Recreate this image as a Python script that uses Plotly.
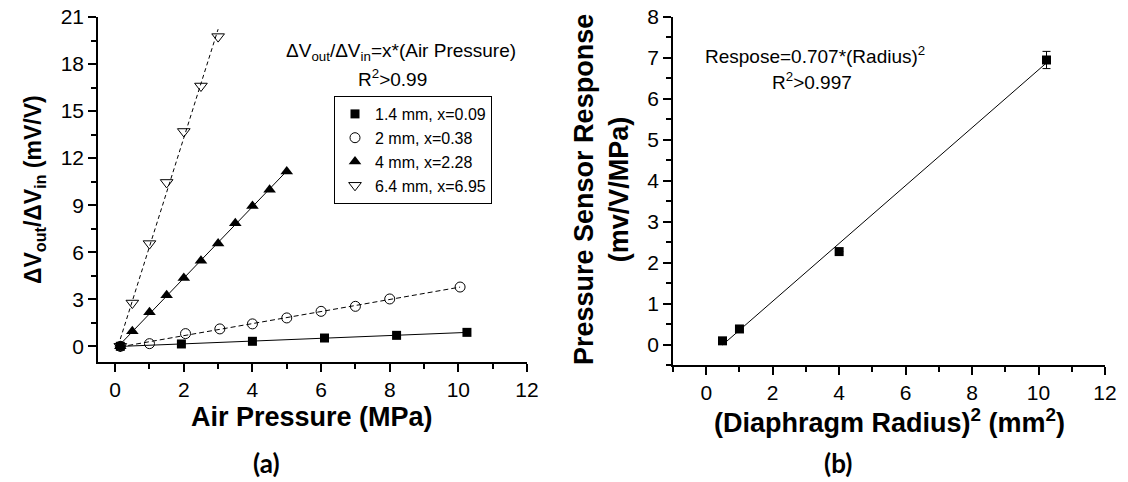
import numpy as np
import plotly.graph_objects as go

W, H = 1128, 482
FONT = "Arial, Liberation Sans, sans-serif"

# ---------------- Panel (a) data ----------------
legend_names = ["1.4 mm, x=0.09", "2 mm, x=0.38", "4 mm, x=2.28", "6.4 mm, x=6.95"]
p14_x = [0.15, 1.93, 4.0, 6.1, 8.2, 10.25]
p14_y = [0.0, 0.15, 0.32, 0.53, 0.70, 0.89]
p2_x = [0.15, 1.0, 2.05, 3.05, 4.0, 5.0, 6.0, 7.0, 8.0, 10.05]
p2_y = [0.0, 0.17, 0.81, 1.11, 1.43, 1.81, 2.23, 2.55, 3.02, 3.78]
p4_x = [0.15, 0.5, 1.0, 1.5, 2.0, 2.5, 3.0, 3.5, 4.0, 4.5, 5.0]
p4_y = [0.0, 0.96, 2.17, 3.25, 4.36, 5.46, 6.55, 7.85, 8.95, 9.98, 11.15]
p64_x = [0.15, 0.5, 1.0, 1.5, 2.0, 2.5, 3.0]
p64_y = [0.0, 2.76, 6.55, 10.45, 13.7, 16.6, 19.75]

# ---------------- Panel (b) data ----------------
rad2 = [0.49, 1.0, 4.0, 10.24]
resp = [0.09, 0.38, 2.27, 6.95]
resp_err = [0.0, 0.0, 0.0, 0.21]

# axis tick setup
a_xticks = [0, 2, 4, 6, 8, 10, 12]
a_yticks = [0, 3, 6, 9, 12, 15, 18, 21]
b_xticks = [0, 2, 4, 6, 8, 10, 12]
b_yticks = [0, 1, 2, 3, 4, 5, 6, 7, 8]


def px(x):
    return x / W


def py(y):
    return 1 - y / H


fig = go.Figure()

series = [
    (p14_x, p14_y, legend_names[0], dict(symbol="square", size=9, color="black"), "solid"),
    (p2_x, p2_y, legend_names[1], dict(symbol="circle-open", size=10, color="black", line=dict(width=1, color="black")), "5px,3px"),
    (p4_x, p4_y, legend_names[2], dict(symbol="triangle-up", size=11, color="black"), "solid"),
    (p64_x, p64_y, legend_names[3], dict(symbol="triangle-down-open", size=11, color="black", line=dict(width=1, color="black")), "4px,3px"),
]

# fit lines (linear regression of each series)
for xs, ys, name, mk, dash in series:
    k, b = np.polyfit(xs, ys, 1)
    xf = np.array([min(xs), max(xs)])
    fig.add_trace(go.Scatter(x=xf, y=k * xf + b, mode="lines",
                             line=dict(color="black", width=1, dash=dash),
                             showlegend=False, hoverinfo="skip", xaxis="x", yaxis="y"))
for xs, ys, name, mk, dash in series:
    fig.add_trace(go.Scatter(x=xs, y=ys, mode="markers", name=name, marker=mk,
                             xaxis="x", yaxis="y", cliponaxis=False))

# panel b
kb, bb = np.polyfit(rad2, resp, 1)
xfb = np.array([min(rad2), max(rad2)])
fig.add_trace(go.Scatter(x=xfb, y=kb * xfb + bb, mode="lines",
                         line=dict(color="black", width=1),
                         showlegend=False, hoverinfo="skip", xaxis="x2", yaxis="y2"))
fig.add_trace(go.Scatter(x=rad2, y=resp, mode="markers",
                         marker=dict(symbol="square", size=9, color="black"),
                         error_y=dict(type="data", array=resp_err, visible=True,
                                      color="black", thickness=1, width=4),
                         showlegend=False, xaxis="x2", yaxis="y2"))

tickfont = dict(family=FONT, size=21, color="black")


def main_axis(domain, rng, tickvals, minor_dtick, anchor):
    return dict(domain=domain, range=rng, tickmode="array", tickvals=tickvals,
                ticks="outside", ticklen=8, tickwidth=1.5, tickcolor="black",
                showline=True, linewidth=1.5, linecolor="black", automargin=False,
                showgrid=False, zeroline=False, tickfont=tickfont, anchor=anchor,
                minor=dict(dtick=minor_dtick, tick0=0, ticks="outside", ticklen=5,
                           tickwidth=1.5, tickcolor="black", showgrid=False))


def mirror_axis(overlay, rng, tickvals, minor_dtick, anchor, side):
    return dict(overlaying=overlay, range=rng, tickmode="array", tickvals=tickvals,
                ticks="inside", ticklen=6, tickwidth=1.5, tickcolor="black",
                showline=True, linewidth=1.5, linecolor="black", automargin=False,
                showgrid=False, zeroline=False, showticklabels=False,
                anchor=anchor, side=side,
                minor=dict(dtick=minor_dtick, tick0=0, ticks="inside", ticklen=3.5,
                           tickwidth=1.5, tickcolor="black", showgrid=False))


a_xdom = [px(98), px(527)]
a_ydom = [py(362), py(17)]
b_xdom = [px(673), px(1105)]
b_ydom = [py(365), py(17)]

fig.update_layout(
    width=W, height=H,
    margin=dict(l=0, r=0, t=0, b=0, pad=0, autoexpand=False),
    paper_bgcolor="white", plot_bgcolor="white",
    font=dict(family=FONT, color="black"),
    xaxis=main_axis(a_xdom, [-0.5, 12], a_xticks, 1, "y"),
    yaxis=main_axis(a_ydom, [-1, 21], a_yticks, 1.5, "x"),
    xaxis2=main_axis(b_xdom, [-1, 12], b_xticks, 1, "y2"),
    yaxis2=main_axis(b_ydom, [-0.5, 8], b_yticks, 0.5, "x2"),
    xaxis3=mirror_axis("x", [-0.5, 12], a_xticks, 1, "y", "top"),
    yaxis3=mirror_axis("y", [-1, 21], a_yticks, 1.5, "x", "right"),
    xaxis4=mirror_axis("x2", [-1, 12], b_xticks, 1, "y2", "top"),
    yaxis4=mirror_axis("y2", [-0.5, 8], b_yticks, 0.5, "x2", "right"),
    showlegend=True,
    legend=dict(x=px(334), y=py(96), xanchor="left", yanchor="top",
                bordercolor="black", borderwidth=1, bgcolor="white",
                font=dict(family=FONT, size=16, color="black"),
                tracegroupgap=0),
)


def ann(text, x, y, size, bold=False, angle=0, family=FONT, align="center"):
    if bold:
        text = "<b>" + text + "</b>"
    fig.add_annotation(text=text, x=px(x), y=py(y), xref="paper", yref="paper",
                       showarrow=False, textangle=angle, align=align,
                       font=dict(family=family, size=size, color="black"),
                       xanchor="center", yanchor="middle")


# axis titles
ann("Air Pressure (MPa)", 312, 417, 27, bold=True)
ann("ΔV<sub>out</sub>/ΔV<sub>in</sub> (mV/V)", 35, 190, 23, bold=True, angle=-90)
ann("(Diaphragm Radius)<sup>2</sup> (mm<sup>2</sup>)", 889, 421, 27, bold=True)
ann("Pressure Sensor Response<br>(mv/V/MPa)", 602, 190, 27, bold=True, angle=-90)

# panel labels
ann("(a)", 266, 463, 26, bold=True, family="Lato, Open Sans, sans-serif")
ann("(b)", 838, 463, 26, bold=True, family="Lato, Open Sans, sans-serif")

# in-plot texts
ann("ΔV<sub>out</sub>/ΔV<sub>in</sub>=x*(Air Pressure)", 401, 52, 19)
ann("R<sup>2</sup>>0.99", 392, 78, 19)
ann("Respose=0.707*(Radius)<sup>2</sup>", 815, 55, 19)
ann("R<sup>2</sup>>0.997", 812, 81, 19)

fig.write_html("out.html")
